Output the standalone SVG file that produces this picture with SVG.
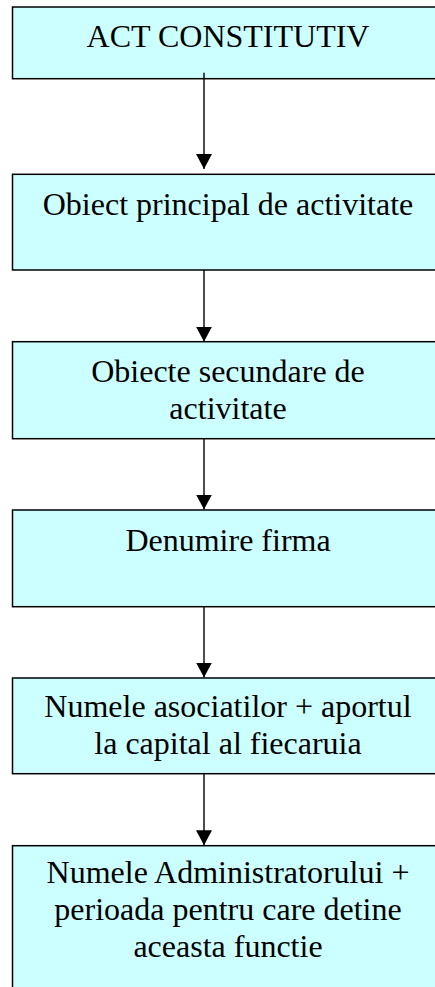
<svg xmlns="http://www.w3.org/2000/svg" width="435" height="987" viewBox="0 0 435 987">
<defs>
<style>
.box{fill:#CCFFFF;stroke:#000;stroke-width:1.5}
.t{font-family:"Liberation Serif","Times New Roman",serif;font-size:32px;fill:#000;text-anchor:middle}
.c{stroke:#000;stroke-width:1.4;fill:none;marker-end:url(#ah)}
</style>
<marker id="ah" markerUnits="userSpaceOnUse" markerWidth="16" markerHeight="16" refX="15" refY="8" orient="auto" viewBox="0 0 16 16">
<path d="M0,0 L15,8 L0,16 Z" fill="#000"/>
</marker>
</defs>
<rect width="435" height="987" fill="#fff"/>
<g id="n1"><rect class="box" x="12.5" y="7" width="432" height="71.7"/><text class="t" x="228" y="46.7">ACT CONSTITUTIV</text></g>
<g id="n2"><rect class="box" x="12.5" y="174.3" width="432" height="95.7"/><text class="t" x="228" y="215">Obiect principal de activitate</text></g>
<g id="n3"><rect class="box" x="12.5" y="341.7" width="432" height="97"/><text class="t" x="228" y="382.3">Obiecte secundare de</text><text class="t" x="228" y="419.3">activitate</text></g>
<g id="n4"><rect class="box" x="12.5" y="510" width="432" height="96.7"/><text class="t" x="228" y="551">Denumire firma</text></g>
<g id="n5"><rect class="box" x="12.5" y="678" width="432" height="95.7"/><text class="t" x="228" y="717.3">Numele asociatilor + aportul</text><text class="t" x="228" y="754.3">la capital al fiecaruia</text></g>
<g id="n6"><rect class="box" x="12.5" y="845.7" width="432" height="160"/><text class="t" x="228" y="883">Numele Administratorului +</text><text class="t" x="228" y="920">perioada pentru care detine</text><text class="t" x="228" y="957">aceasta functie</text></g>
<g id="connectors">
<path class="c" d="M204,72.7 V169"/>
<path class="c" d="M204,270 V341.7"/>
<path class="c" d="M204,438.7 V509.5"/>
<path class="c" d="M204,606.7 V677.5"/>
<path class="c" d="M204,773.7 V845.2"/>
</g>
</svg>
